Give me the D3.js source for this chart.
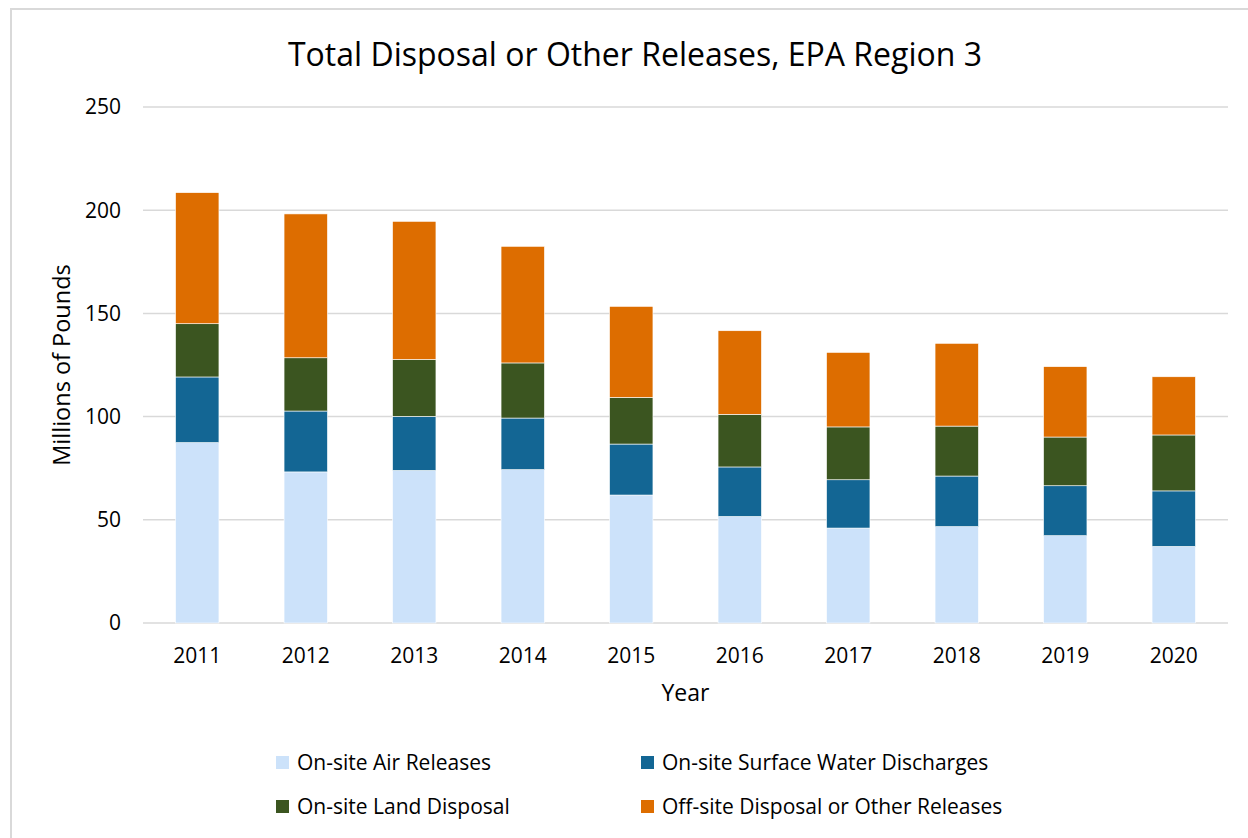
<!DOCTYPE html>
<html>
<head>
<meta charset="utf-8">
<script src="https://cdn.jsdelivr.net/npm/d3@7"></script>
<style>
  body { margin: 0; background: #fff; }
  text { font-family: "Open Sans", Lato, sans-serif; fill: #000; }
</style>
</head>
<body>
<svg id="chart" width="1248" height="838"></svg>
<script>
// values, millions of pounds
var years = ['2011', '2012', '2013', '2014', '2015', '2016', '2017', '2018', '2019', '2020'];
var airReleases = [87.4, 73.2, 73.9, 74.3, 62.0, 51.6, 46.0, 46.7, 42.3, 37.1];
var waterDischarges = [31.8, 29.5, 26.2, 25.0, 24.7, 24.0, 23.4, 24.5, 24.2, 26.9];
var landDisposal = [25.8, 25.8, 27.6, 26.7, 22.6, 25.5, 25.6, 24.2, 23.6, 27.1];
var offSite = [63.5, 69.7, 66.9, 56.5, 44.1, 40.5, 36.1, 40.1, 34.1, 28.2];
var yTicks = [0, 50, 100, 150, 200, 250];

var seriesNames = ['On-site Air Releases', 'On-site Surface Water Discharges',
    'On-site Land Disposal', 'Off-site Disposal or Other Releases'];
var seriesKeys = ['air', 'water', 'land', 'off'];
var colors = ['#cce2fa', '#136694', '#3b5520', '#dd6d00'];

var rows = years.map(function(y, i) {
    return { year: y, air: airReleases[i], water: waterDischarges[i], land: landDisposal[i], off: offSite[i] };
});

var svg = d3.select('#chart');

// frame of the chart area (only top and left edges show)
svg.append('rect')
    .attr('x', 11).attr('y', 9)
    .attr('width', 1260).attr('height', 860)
    .attr('fill', 'none')
    .attr('stroke', '#d9d9d9')
    .attr('stroke-width', 2);

var plot = { left: 143, right: 1228, top: 107, bottom: 623 };

var x = d3.scaleBand()
    .domain(years)
    .range([plot.left, plot.right])
    .paddingInner(0.6)
    .paddingOuter(0.3);

var y = d3.scaleLinear()
    .domain([0, 250])
    .range([plot.bottom, plot.top]);

// gridlines
svg.append('g')
    .selectAll('line')
    .data(yTicks)
    .enter()
    .append('line')
    .attr('x1', plot.left)
    .attr('x2', plot.right)
    .attr('y1', function(d) { return y(d); })
    .attr('y2', function(d) { return y(d); })
    .attr('stroke', '#d9d9d9')
    .attr('stroke-width', 1.5);

// y tick labels
svg.append('g')
    .selectAll('text')
    .data(yTicks)
    .enter()
    .append('text')
    .attr('x', 121)
    .attr('y', function(d) { return y(d); })
    .attr('dy', '0.35em')
    .attr('text-anchor', 'end')
    .attr('font-size', 21)
    .text(function(d) { return d; });

// stacked bars
var stack = d3.stack().keys(seriesKeys)(rows);

svg.append('g')
    .selectAll('g')
    .data(stack)
    .enter()
    .append('g')
    .attr('fill', function(d, i) { return colors[i]; })
    .selectAll('rect')
    .data(function(d) { return d; })
    .enter()
    .append('rect')
    .attr('x', function(d) { return x(d.data.year); })
    .attr('width', x.bandwidth())
    .attr('y', function(d) { return y(d[1]); })
    .attr('height', function(d) { return y(d[0]) - y(d[1]); })
    .attr('stroke', '#fff')
    .attr('stroke-width', 0.6);

// x labels
svg.append('g')
    .selectAll('text')
    .data(years)
    .enter()
    .append('text')
    .attr('x', function(d) { return x(d) + x.bandwidth() / 2; })
    .attr('y', 663)
    .attr('text-anchor', 'middle')
    .attr('font-size', 21)
    .text(function(d) { return d; });

// titles
svg.append('text')
    .attr('x', 635)
    .attr('y', 66)
    .attr('text-anchor', 'middle')
    .attr('font-size', 32)
    .text('Total Disposal or Other Releases, EPA Region 3');

svg.append('text')
    .attr('transform', 'translate(70,' + ((plot.top + plot.bottom) / 2) + ') rotate(-90)')
    .attr('text-anchor', 'middle')
    .attr('font-size', 23.5)
    .text('Millions of Pounds');

svg.append('text')
    .attr('x', (plot.left + plot.right) / 2)
    .attr('y', 701)
    .attr('text-anchor', 'middle')
    .attr('font-size', 23)
    .text('Year');

// legend, two columns
var legend = svg.append('g')
    .selectAll('g')
    .data(seriesNames)
    .enter()
    .append('g')
    .attr('transform', function(d, i) {
        var lx = (i % 2 === 0) ? 276 : 641;
        var ly = (i < 2) ? 763 : 807;
        return 'translate(' + lx + ',' + ly + ')';
    });

legend.append('rect')
    .attr('x', 0)
    .attr('y', -7)
    .attr('width', 13)
    .attr('height', 13)
    .attr('fill', function(d, i) { return colors[i]; });

legend.append('text')
    .attr('x', 21)
    .attr('y', 0)
    .attr('dy', '0.35em')
    .attr('font-size', 21)
    .text(function(d) { return d; });
</script>
</body>
</html>
